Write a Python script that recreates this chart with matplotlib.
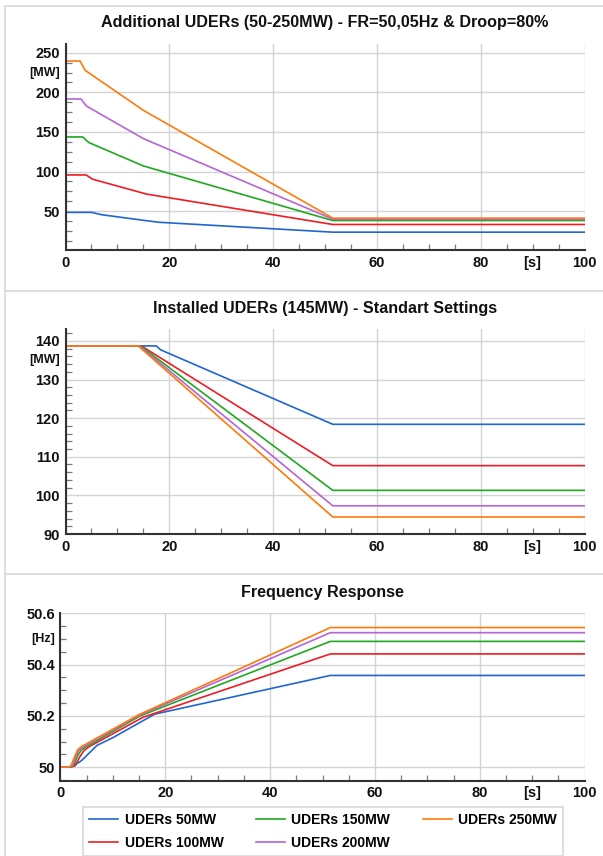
import matplotlib
matplotlib.use("Agg")
import matplotlib.pyplot as plt
from matplotlib.lines import Line2D
from matplotlib.ticker import MultipleLocator, FixedLocator, FuncFormatter

plt.rcParams['font.family'] = ['Liberation Sans', 'DejaVu Sans']
plt.rcParams['font.weight'] = 'bold'

labels = ["UDERs 50MW", "UDERs 100MW", "UDERs 150MW", "UDERs 200MW", "UDERs 250MW"]
colors = ["#1f66d1", "#ee1c23", "#1fa91f", "#b664d6", "#ff7a0a"]

# Panel 1: Additional UDERs
p1_x = [
    [0, 5, 7, 15, 18, 51.5, 100],
    [0, 4, 5.2, 15.6, 51.5, 100],
    [0, 3.3, 4.5, 15, 51.5, 100],
    [0, 3, 4, 15, 51.5, 100],
    [0, 2.8, 3.8, 15, 51.5, 100],
]
p1_y = [
    [48.5, 48.5, 45.5, 38.5, 36, 23.5, 23.5],
    [95.7, 95.7, 90.4, 71.6, 33.2, 33.2],
    [143.7, 143.7, 136.6, 107.1, 38.2, 38.2],
    [191.6, 191.6, 182.8, 141.6, 39.9, 39.9],
    [239.5, 239.5, 227.7, 177.3, 41.2, 41.2],
]

# Panel 2: Installed UDERs
p2_x = [
    [0, 17.5, 18.3, 51.5, 100],
    [0, 14.6, 51.5, 100],
    [0, 14.4, 51.5, 100],
    [0, 14.2, 51.5, 100],
    [0, 14.0, 51.5, 100],
]
p2_y = [
    [138.7, 138.7, 137.7, 118.4, 118.4],
    [138.7, 138.7, 107.7, 107.7],
    [138.7, 138.7, 101.3, 101.3],
    [138.7, 138.7, 97.3, 97.3],
    [138.7, 138.7, 94.4, 94.4],
]

# Panel 3: Frequency response
p3_x = [
    [0, 1.5, 2.5, 4, 5.5, 7, 10, 18, 51.5, 100],
    [0, 2, 2.8, 3.7, 4.5, 5.5, 15.8, 51.5, 100],
    [0, 1.8, 2.5, 3.3, 4, 4.8, 15.2, 51.5, 100],
    [0, 1.7, 2.3, 3, 3.6, 4.3, 15, 51.5, 100],
    [0, 1.5, 2, 2.7, 3.3, 4, 15, 51.5, 100],
]
p3_y = [
    [50, 50, 50.005, 50.025, 50.055, 50.085, 50.115, 50.207, 50.358, 50.358],
    [50, 50, 50.005, 50.04, 50.065, 50.08, 50.195, 50.442, 50.442],
    [50, 50, 50.005, 50.045, 50.067, 50.078, 50.2, 50.491, 50.491],
    [50, 50, 50.005, 50.045, 50.068, 50.078, 50.202, 50.525, 50.525],
    [50, 50, 50.005, 50.04, 50.068, 50.08, 50.205, 50.545, 50.545],
]

titles = ["Additional UDERs (50-250MW) - FR=50,05Hz & Droop=80%",
          "Installed UDERs (145MW) - Standart Settings",
          "Frequency Response"]

W, H = 603, 856
fig = plt.figure(figsize=(W / 100, H / 100), dpi=100)


def fx(px):
    return px / W


def fy(py):
    return 1 - py / H


# panel frames
border = "#d9d9d9"
fig.add_artist(Line2D([fx(5), fx(5)], [fy(6), fy(856)], color=border, lw=1.2, transform=fig.transFigure))
for yy in [6, 290.5, 574]:
    fig.add_artist(Line2D([fx(5), 1], [fy(yy), fy(yy)], color=border, lw=1.2, transform=fig.transFigure))


def make_ax(left, right, top, bottom):
    return fig.add_axes([fx(left), fy(bottom), fx(right) - fx(left), fy(top) - fy(bottom)])


ax1 = make_ax(65.5, 584.5, 44, 250)
ax2 = make_ax(65.5, 584.5, 329.3, 534)
ax3 = make_ax(60.4, 584.6, 612.7, 780.7)


def style(ax, ylim, ymaj, ymin, unit, unit_y, fmt):
    ax.set_xlim(0, 100)
    ax.set_ylim(*ylim)
    ax.xaxis.set_major_locator(MultipleLocator(20))
    ax.xaxis.set_minor_locator(MultipleLocator(5))
    ax.yaxis.set_major_locator(FixedLocator(ymaj))
    ax.yaxis.set_minor_locator(MultipleLocator(ymin))
    ax.yaxis.set_major_formatter(FuncFormatter(fmt))
    ax.grid(True, which='major', color="#d4d4d4", lw=1.0)
    ax.set_axisbelow(True)
    for s in ['top', 'right']:
        ax.spines[s].set_visible(False)
    for s in ['left', 'bottom']:
        ax.spines[s].set_color("#333333")
        ax.spines[s].set_linewidth(1.5)
    ax.tick_params(which='major', length=0, labelsize=10.5, pad=4, labelcolor="#111111")
    ax.tick_params(which='minor', direction='in', length=4, color="#7a7a7a", width=0.9)
    for lab in ax.get_xticklabels() + ax.get_yticklabels():
        lab.set_fontweight('bold')
    ax.annotate(unit, xy=(0, unit_y), xycoords=('axes fraction', 'data'),
                xytext=(-4, 0), textcoords='offset points', ha='right', va='center',
                fontsize=9, fontweight='bold', color="#111111")
    ax.annotate("[s]", xy=(90, 0), xycoords=('data', 'axes fraction'),
                xytext=(0, -4), textcoords='offset points', ha='center', va='top',
                fontsize=10.5, fontweight='bold', color="#111111")


style(ax1, (1, 261), [50, 100, 150, 200, 250], 12.5, "[MW]", 225,
      lambda v, p: f"{v:.0f}")
style(ax2, (90, 143), [90, 100, 110, 120, 130, 140], 2, "[MW]", 135,
      lambda v, p: f"{v:.0f}")
style(ax3, (49.947, 50.603), [50.0, 50.2, 50.4, 50.6], 0.05, "[Hz]", 50.5,
      lambda v, p: "50" if abs(v - 50) < 1e-9 else f"{v:.1f}")

for ax, xs, ys in [(ax1, p1_x, p1_y), (ax2, p2_x, p2_y), (ax3, p3_x, p3_y)]:
    for x, y, c, lab in zip(xs, ys, colors, labels):
        ax.plot(x, y, color=c, lw=1.2, label=lab, solid_joinstyle='round')

for ax, t, pd in zip([ax1, ax2, ax3], titles, [12, 12, 11]):
    ax.set_title(t, fontsize=11.6, fontweight='bold', pad=pd, color="#111111")

handles, labs = ax3.get_legend_handles_labels()
leg = fig.legend(handles, labs, loc='upper left', ncol=3,
                 bbox_to_anchor=(fx(83), 0.0, fx(563) - fx(83), fy(807)),
                 mode='expand', borderaxespad=0, fancybox=False,
                 edgecolor="#d0d0d0", frameon=True,
                 prop={'weight': 'bold', 'size': 10},
                 handlelength=2.1, handletextpad=0.45, labelspacing=0.6,
                 borderpad=0.45, columnspacing=1.0)
leg.get_frame().set_linewidth(1.2)

fig.savefig("out.png", dpi=100, facecolor="white")
